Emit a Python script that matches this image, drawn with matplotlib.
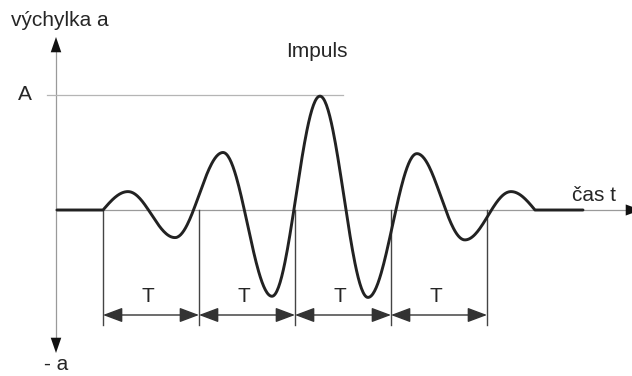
import numpy as np
import matplotlib
matplotlib.use("Agg")
import matplotlib.pyplot as plt
from matplotlib.patches import FancyArrowPatch

plt.rcParams['font.family'] = ['Liberation Sans', 'DejaVu Sans']

# ---- data (time in periods T, amplitude relative to A) ----
t_key = [-0.48, 0.0, 0.26, 0.75, 1.25, 1.76, 2.26, 2.76, 3.27, 3.77, 4.25, 4.5, 5.0]
a_key = [0.0, 0.0, 0.16, -0.24, 0.50, -0.75, 0.99, -0.76, 0.49, -0.26, 0.16, 0.0, 0.0]
period_marks = [0, 1, 2, 3, 4]
period_labels = ["T", "T", "T", "T"]
amp_A = 1.0
y_label = "výchylka a"
y_neg_label = "- a"
x_label = "čas t"
title = "Impuls"
A_label = "A"

# ---- figure ----
W, H = 632, 376
fig = plt.figure(figsize=(W / 100, H / 100), dpi=100)
ax = fig.add_axes([0, 0, 1, 1])
ax.set_axis_off()
X0, SX = 103.0, 96.0     # px of t=0, px per T
Y0, SY = 210.0, 115.0    # px of a=0, px per A
ax.set_xlim(-X0 / SX, (W - X0) / SX)
ax.set_ylim((Y0 - H) / SY, Y0 / SY)

def px(x, y):
    return ((x - X0) / SX, (Y0 - y) / SY)

# smooth curve through key points (half-cosine between extrema)
ts, as_ = [], []
n = len(t_key)
for i in range(n - 1):
    t0, t1, a0, a1 = t_key[i], t_key[i + 1], a_key[i], a_key[i + 1]
    f = np.linspace(0, 1, 60)
    if a0 == 0 and a1 == 0:
        s = f
    elif a0 == 0 and i > 0 and a_key[i - 1] == 0:
        s = np.sin(np.pi * f / 2)          # steep start from baseline
    elif a1 == 0 and i + 2 < n and a_key[i + 2] == 0:
        s = 1 - np.cos(np.pi * f / 2)      # steep return to baseline
    else:
        s = (1 - np.cos(np.pi * f)) / 2
    ts.append(t0 + (t1 - t0) * f)
    as_.append(a0 + (a1 - a0) * s)
ts = np.concatenate(ts)
as_ = np.concatenate(as_)

gray = "#9a9a9a"
dark = "#222222"
txt = "#262626"
FS = 15

# baseline (time axis)
ax.plot([px(57, 0)[0], px(628, 0)[0]], [0, 0], color=gray, lw=0.9, zorder=1)
ax.add_patch(FancyArrowPatch(px(615, Y0), px(641, Y0),
                             arrowstyle="-|>,head_length=11,head_width=4",
                             mutation_scale=1, color="#111", lw=0, shrinkA=0, shrinkB=0))
# vertical amplitude axis
ya_x = px(56, 0)[0]
ax.plot([ya_x, ya_x], [px(0, 52)[1], px(0, 338)[1]], color=gray, lw=0.9, zorder=1)
ax.add_patch(FancyArrowPatch(px(56, 60), px(56, 37),
                             arrowstyle="-|>,head_length=11,head_width=3.8",
                             mutation_scale=1, color="#111", lw=0, shrinkA=0, shrinkB=0))
ax.add_patch(FancyArrowPatch(px(56, 330), px(56, 353),
                             arrowstyle="-|>,head_length=11,head_width=3.8",
                             mutation_scale=1, color="#111", lw=0, shrinkA=0, shrinkB=0))

# level A line
ax.plot([px(47, 0)[0], px(343, 0)[0]], [amp_A, amp_A], color="#b5b5b5", lw=0.9, zorder=1)

# waveform
ax.plot(ts, as_, color=dark, lw=2.1, solid_capstyle="round", zorder=3)

# period markers
y_bot = px(0, 325)[1]
y_dim = px(0, 315)[1]
for tm in period_marks:
    ax.plot([tm, tm], [0, y_bot], color="#444", lw=1.0, zorder=2)
for i in range(len(period_marks) - 1):
    ta, tb = period_marks[i], period_marks[i + 1]
    ax.add_patch(FancyArrowPatch((ta, y_dim), (tb, y_dim),
                                 arrowstyle="<|-|>,head_length=12,head_width=4.5",
                                 mutation_scale=1, color="#333", lw=1.0,
                                 shrinkA=0, shrinkB=0, zorder=2))
    ax.text((ta + tb) / 2 - 0.03, px(0, 297)[1], period_labels[i], ha="center",
            va="center", fontsize=FS, color=txt)

# labels
ax.text(*px(11, 21), y_label, ha="left", va="center", fontsize=FS, color=txt)
ax.text(*px(25, 95), A_label, ha="center", va="center", fontsize=FS, color=txt)
ax.text(*px(317, 52), title, ha="center", va="center", fontsize=FS, color=txt)
ax.text(*px(594, 196), x_label, ha="center", va="center", fontsize=FS, color=txt)
ax.text(*px(56, 365), y_neg_label, ha="center", va="center", fontsize=FS, color=txt)

fig.savefig("out.png", dpi=100, facecolor="white")
